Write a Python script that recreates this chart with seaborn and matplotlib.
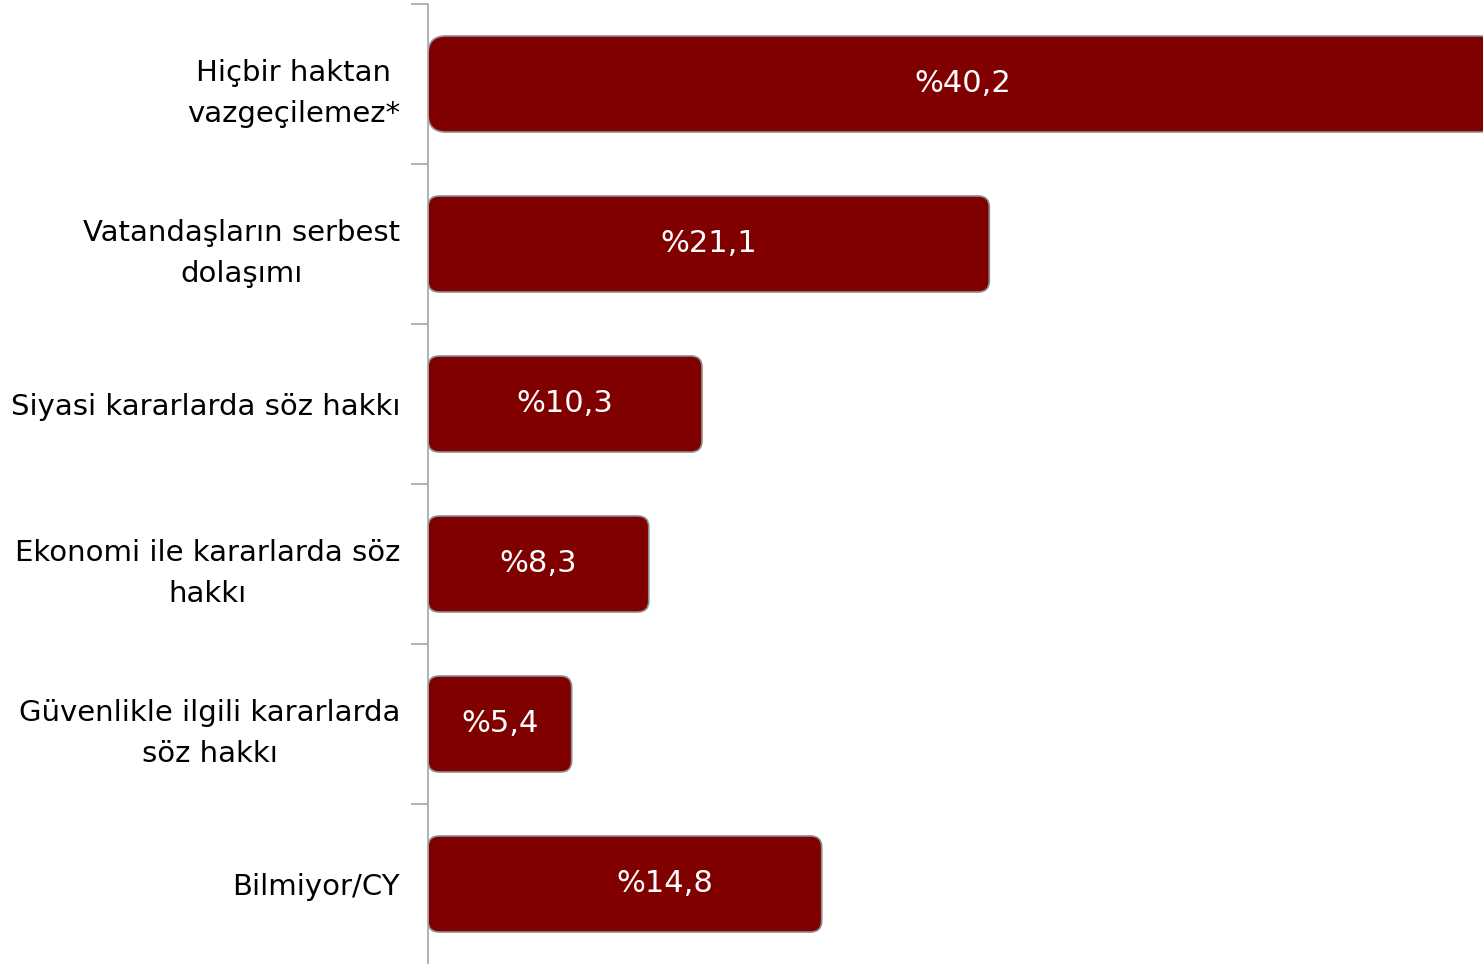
import matplotlib.pyplot as plt
import seaborn as sns
import pandas as pd
from matplotlib.patches import FancyBboxPatch
from matplotlib.transforms import offset_copy

categories = ['Hiçbir haktan\nvazgeçilemez*', 'Vatandaşların serbest\ndolaşımı',
              'Siyasi kararlarda söz hakkı', 'Ekonomi ile kararlarda söz\nhakkı',
              'Güvenlikle ilgili kararlarda\nsöz hakkı', 'Bilmiyor/CY']
values = [40.2, 21.1, 10.3, 8.3, 5.4, 14.8]
labels = ['%40,2', '%21,1', '%10,3', '%8,3', '%5,4', '%14,8']

df = pd.DataFrame({'cat': categories, 'val': values})

sns.set_style('white')
plt.rcParams['font.family'] = ['DejaVu Sans']

fig = plt.figure(figsize=(14.83, 9.64), dpi=100)
ax = fig.add_axes([428 / 1483, 0, 1 - 428 / 1483, 1 - 4 / 964])

sns.barplot(data=df, x='val', y='cat', color='#800000', width=0.6, ax=ax,
            saturation=1)

ax.set_xlim(0, 39.66)
ax.set_ylim(len(categories) - 0.5, -0.5)

# rounded bars: px -> data units
px_x = 39.66 / 1055
px_y = 6 / 960
for p, r in zip(list(ax.patches), [18, 11, 11, 11, 11, 11]):
    x0, y0 = p.get_x(), p.get_y()
    w, h = p.get_width(), p.get_height()
    p.remove()
    fb = FancyBboxPatch((x0, y0), w, h,
                        boxstyle='round,pad=0,rounding_size=%f' % (r * px_x),
                        mutation_aspect=px_y / px_x,
                        facecolor='#800000', edgecolor='#8c8c8c', linewidth=1.2,
                        clip_on=True, zorder=2)
    ax.add_patch(fb)

# the last label sits a bit right of the bar centre in the original
shift = [0, 0, 0, 0, 0, 29]
for i, (v, t) in enumerate(zip(values, labels)):
    tr = offset_copy(ax.transData, fig=fig, x=shift[i], y=0, units='points')
    ax.text(v / 2, i, t, color='white', ha='center', va='center', fontsize=22,
            zorder=3, transform=tr)

for s in ['top', 'right', 'bottom']:
    ax.spines[s].set_visible(False)
ax.spines['left'].set_color('#a6a6a6')
ax.spines['left'].set_linewidth(1.2)

ax.set_xticks([])
ax.set_xlabel('')
ax.set_ylabel('')
ax.set_yticks(range(len(categories)))
ax.set_yticklabels(categories, fontsize=21, color='black',
                   multialignment='center', linespacing=1.6)
ax.tick_params(axis='y', which='major', length=0, pad=20)
ax.set_yticks([i - 0.5 for i in range(len(categories))], minor=True)
ax.tick_params(axis='y', which='minor', length=12, color='#a6a6a6', width=1.2,
               left=True)

fig.savefig('out.png', dpi=100)
